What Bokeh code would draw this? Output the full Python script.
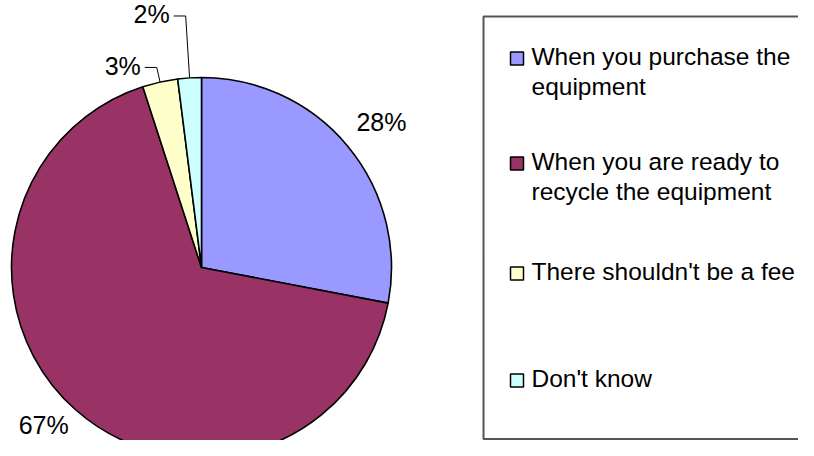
import numpy as np
from bokeh.plotting import figure
from bokeh.models import Range1d, ColumnDataSource
from bokeh.core.properties import value
from bokeh.embed import file_html
from bokeh.resources import INLINE

# ---- data ----
categories = ["When you purchase the equipment",
              "When you are ready to recycle the equipment",
              "There shouldn't be a fee",
              "Don't know"]
legend_lines = [["When you purchase the", "equipment"],
                ["When you are ready to", "recycle the equipment"],
                ["There shouldn't be a fee"],
                ["Don't know"]]
percent = [28, 67, 3, 2]
colors = ["#9999FF", "#993366", "#FFFFCC", "#CCFFFF"]

# ---- layout (pixel space of the reference; y measured up: Y = 456 - screen_y) ----
def Y(sy):
    return 456 - sy

TXT_DY = 9   # correction: rendered baseline sits lower than requested
FONT = value("Liberation Sans")
W, H = 798, 440
p = figure(width=W, height=H, x_range=Range1d(0, W), y_range=Range1d(456 - H, 456),
           output_backend="svg", toolbar_location=None,
           x_axis_location=None, y_axis_location=None,
           min_border=0, min_border_left=0, min_border_right=0,
           min_border_top=0, min_border_bottom=0)
p.grid.visible = False
p.outline_line_color = None
p.background_fill_color = "white"
p.border_fill_color = "white"

cx, cy, r = 201, Y(267), 190
vals = np.array(percent, dtype=float)
cum = np.concatenate([[0.0], np.cumsum(vals)]) / vals.sum()
start = np.pi / 2 - 2 * np.pi * cum[:-1]
end = np.pi / 2 - 2 * np.pi * cum[1:]

src = ColumnDataSource(dict(start=start, end=end, color=colors, cat=categories))
p.wedge(x=cx, y=cy, radius=r, start_angle="start", end_angle="end", direction="clock",
        fill_color="color", line_color="black", line_width=1.6, source=src)

# ---- data labels ----
mid = 2 * np.pi * (cum[:-1] + cum[1:]) / 2   # clockwise from top
dx, dy = np.sin(mid), np.cos(mid)
labels = [f"{v}%" for v in percent]

# large slices: label placed outside along mid-angle
nudge = {0: (2, -2), 1: (-5, 16)}
for i in (0, 1):
    lx = cx + 231 * dx[i] + nudge[i][0]
    ly = cy + 231 * dy[i] + nudge[i][1]
    p.text(x=[lx], y=[ly - 9 + TXT_DY], text=[labels[i]], text_font=FONT,
           text_font_size="25px", text_align="center", text_baseline="alphabetic",
           text_color="black")

# small slices: leader lines
elbow_r = {2: 205, 3: 252}
xs, ys = [], []
for i in (2, 3):
    ex, ey = cx + r * dx[i], cy + r * dy[i]
    bx, by = cx + elbow_r[i] * dx[i], cy + elbow_r[i] * dy[i]
    hx = bx - 12
    xs.append([ex, bx, hx])
    ys.append([ey, by, by])
    p.text(x=[hx - 4], y=[by - 7.5 + TXT_DY], text=[labels[i]], text_font=FONT,
           text_font_size="25px", text_align="right", text_baseline="alphabetic",
           text_color="black")
p.multi_line(xs=xs, ys=ys, line_color="black", line_width=1)

# ---- legend ----
p.quad(left=483, right=840, top=Y(16), bottom=Y(438.5), fill_color=None,
       line_color="#555555", line_width=2)
first_base = [65, 170, 280, 387]
sq_x, sq_y = [], []
tx, ty, tt = [], [], []
for i, lines in enumerate(legend_lines):
    sq_x.append(516.5)
    sq_y.append(Y(first_base[i] - 7))
    for j, line in enumerate(lines):
        tx.append(531)
        ty.append(Y(first_base[i] + 30 * j) + TXT_DY)
        tt.append(line)
p.rect(x=sq_x, y=sq_y, width=13, height=13, fill_color=colors,
       line_color="black", line_width=1.5)
p.text(x=tx, y=ty, text=tt, text_font=FONT, text_font_size="24.5px",
       text_align="left", text_baseline="alphabetic", text_color="black")

open("out.html", "w").write(file_html(p, INLINE))
